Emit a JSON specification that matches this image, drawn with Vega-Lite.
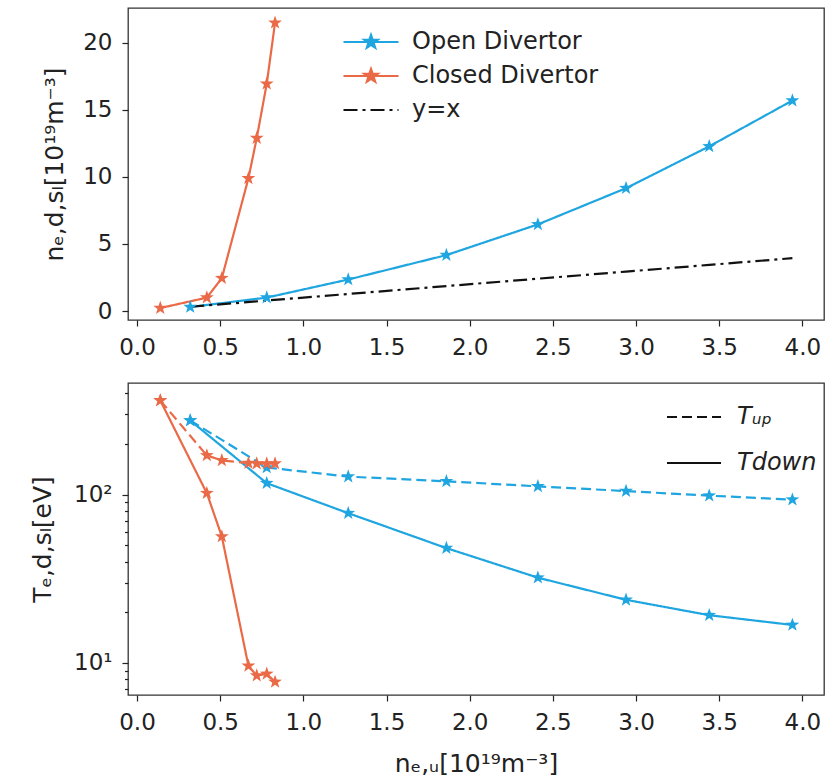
{
  "$schema": "https://vega.github.io/schema/vega-lite/v6.json",
  "background": "white",
  "padding": {"left": 29, "top": 7, "right": 10, "bottom": 2},
  "config": {
    "font": "DejaVu Sans",
    "view": {"stroke": "#333333", "strokeWidth": 1.3},
    "axis": {
      "domain": false,
      "grid": false,
      "tickColor": "#222222",
      "tickSize": 6,
      "tickWidth": 1.2,
      "labelFontSize": 23,
      "labelColor": "#222222",
      "labelPadding": 10,
      "titleFontSize": 25,
      "titleFontWeight": "normal",
      "titleColor": "#222222"
    },
    "legend": {"labelFontSize": 24, "labelColor": "#222222", "padding": 0}
  },
  "datasets": {
    "density": [
      {"series": "Open Divertor", "x": 0.32, "n": 0.3},
      {"series": "Open Divertor", "x": 0.78, "n": 1.0},
      {"series": "Open Divertor", "x": 1.27, "n": 2.35},
      {"series": "Open Divertor", "x": 1.86, "n": 4.17},
      {"series": "Open Divertor", "x": 2.41, "n": 6.46},
      {"series": "Open Divertor", "x": 2.94, "n": 9.16},
      {"series": "Open Divertor", "x": 3.44, "n": 12.28},
      {"series": "Open Divertor", "x": 3.94, "n": 15.7},
      {"series": "Closed Divertor", "x": 0.14, "n": 0.22},
      {"series": "Closed Divertor", "x": 0.42, "n": 1.0},
      {"series": "Closed Divertor", "x": 0.51, "n": 2.45},
      {"series": "Closed Divertor", "x": 0.67, "n": 9.9},
      {"series": "Closed Divertor", "x": 0.72, "n": 12.9},
      {"series": "Closed Divertor", "x": 0.78, "n": 16.95},
      {"series": "Closed Divertor", "x": 0.83, "n": 21.5},
      {"series": "y=x", "x": 0.32, "n": 0.32},
      {"series": "y=x", "x": 0.78, "n": 0.78},
      {"series": "y=x", "x": 1.27, "n": 1.27},
      {"series": "y=x", "x": 1.86, "n": 1.86},
      {"series": "y=x", "x": 2.41, "n": 2.41},
      {"series": "y=x", "x": 2.94, "n": 2.94},
      {"series": "y=x", "x": 3.44, "n": 3.44},
      {"series": "y=x", "x": 3.94, "n": 3.94}
    ],
    "temperature": [
      {"series": "Open Divertor", "kind": "T_up", "x": 0.32, "T": 276},
      {"series": "Open Divertor", "kind": "T_up", "x": 0.78, "T": 145},
      {"series": "Open Divertor", "kind": "T_up", "x": 1.27, "T": 128},
      {"series": "Open Divertor", "kind": "T_up", "x": 1.86, "T": 120},
      {"series": "Open Divertor", "kind": "T_up", "x": 2.41, "T": 112},
      {"series": "Open Divertor", "kind": "T_up", "x": 2.94, "T": 105},
      {"series": "Open Divertor", "kind": "T_up", "x": 3.44, "T": 98.6},
      {"series": "Open Divertor", "kind": "T_up", "x": 3.94, "T": 93.4},
      {"series": "Open Divertor", "kind": "T_down", "x": 0.32, "T": 276},
      {"series": "Open Divertor", "kind": "T_down", "x": 0.78, "T": 117},
      {"series": "Open Divertor", "kind": "T_down", "x": 1.27, "T": 77.6},
      {"series": "Open Divertor", "kind": "T_down", "x": 1.86, "T": 48.1},
      {"series": "Open Divertor", "kind": "T_down", "x": 2.41, "T": 32.1},
      {"series": "Open Divertor", "kind": "T_down", "x": 2.94, "T": 23.7},
      {"series": "Open Divertor", "kind": "T_down", "x": 3.44, "T": 19.2},
      {"series": "Open Divertor", "kind": "T_down", "x": 3.94, "T": 16.8},
      {"series": "Closed Divertor", "kind": "T_up", "x": 0.14, "T": 363},
      {"series": "Closed Divertor", "kind": "T_up", "x": 0.42, "T": 171},
      {"series": "Closed Divertor", "kind": "T_up", "x": 0.51, "T": 160},
      {"series": "Closed Divertor", "kind": "T_up", "x": 0.67, "T": 154},
      {"series": "Closed Divertor", "kind": "T_up", "x": 0.72, "T": 153},
      {"series": "Closed Divertor", "kind": "T_up", "x": 0.78, "T": 153},
      {"series": "Closed Divertor", "kind": "T_up", "x": 0.83, "T": 153},
      {"series": "Closed Divertor", "kind": "T_down", "x": 0.14, "T": 363},
      {"series": "Closed Divertor", "kind": "T_down", "x": 0.42, "T": 102},
      {"series": "Closed Divertor", "kind": "T_down", "x": 0.51, "T": 56.4},
      {"series": "Closed Divertor", "kind": "T_down", "x": 0.67, "T": 9.6},
      {"series": "Closed Divertor", "kind": "T_down", "x": 0.72, "T": 8.4},
      {"series": "Closed Divertor", "kind": "T_down", "x": 0.78, "T": 8.6},
      {"series": "Closed Divertor", "kind": "T_down", "x": 0.83, "T": 7.7}
    ]
  },
  "spacing": 22,
  "resolve": {
    "scale": {"color": "independent", "strokeDash": "independent"},
    "legend": {"color": "independent", "strokeDash": "independent"}
  },
  "vconcat": [
    {
      "width": 696,
      "height": 312,
      "data": {"name": "density"},
      "layer": [
        {
          "mark": {"type": "line", "strokeWidth": 2.2},
          "encoding": {
            "x": {"field": "x", "type": "quantitative",
                  "scale": {"domain": [-0.054, 4.13], "nice": false, "zero": false},
                  "axis": {"values": [0, 0.5, 1, 1.5, 2, 2.5, 3, 3.5, 4], "format": ".1f", "title": null}},
            "y": {"field": "n", "type": "quantitative",
                  "scale": {"domain": [-0.67, 22.6], "nice": false, "zero": false},
                  "axis": {"values": [0, 5, 10, 15, 20], "title": "nₑ,d,sₗ[10¹⁹m⁻³]", "titlePadding": 15}},
            "color": {"field": "series", "type": "nominal",
                      "scale": {"domain": ["Open Divertor", "Closed Divertor", "y=x"], "range": ["#1fa5e0", "#ea6a47", "#111111"]},
                      "legend": {
                        "title": null,
                        "orient": "none",
                        "legendX": 231,
                        "legendY": 22,
                        "symbolSize": 400,
                        "symbolStrokeWidth": 2.2,
                        "labelOffset": 29,
                        "rowPadding": 10,
                        "labelLimit": 300,
                        "encode": {
                          "symbols": {
                            "update": {
                              "shape": {"signal": "datum.value === 'y=x' ? 'M-2.75,0H2.75' : 'M-2.75,0H2.75M0,-0.7L0.165,-0.227L0.666,-0.216L0.266,0.087L0.412,0.566L0,0.28L-0.412,0.566L-0.266,0.087L-0.666,-0.216L-0.165,-0.227Z'"},
                              "fill": {"signal": "datum.value === 'Open Divertor' ? '#1fa5e0' : datum.value === 'Closed Divertor' ? '#ea6a47' : 'transparent'"},
                              "stroke": {"signal": "datum.value === 'Open Divertor' ? '#1fa5e0' : datum.value === 'Closed Divertor' ? '#ea6a47' : '#111111'"},
                              "strokeDash": {"signal": "datum.value === 'y=x' ? [14, 5, 3, 5] : [1, 0]"},
                              "opacity": {"value": 1}
                            }
                          }
                        }
                      }},
            "strokeDash": {"field": "series", "type": "nominal",
                           "scale": {"domain": ["Open Divertor", "Closed Divertor", "y=x"], "range": [[1, 0], [1, 0], [14, 5, 3, 5]]},
                           "legend": null}
          }
        },
        {
          "transform": [{"filter": "datum.series !== 'y=x'"}],
          "mark": {"type": "point", "filled": true, "opacity": 1, "size": 210,
                   "shape": "M0,-1L0.235,-0.324L0.951,-0.309L0.38,0.124L0.588,0.809L0,0.4L-0.588,0.809L-0.38,0.124L-0.951,-0.309L-0.235,-0.324Z"},
          "encoding": {
            "x": {"field": "x", "type": "quantitative"},
            "y": {"field": "n", "type": "quantitative"},
            "color": {"field": "series", "type": "nominal"}
          }
        }
      ]
    },
    {
      "width": 696,
      "height": 312,
      "data": {"name": "temperature"},
      "layer": [
        {
          "mark": {"type": "line", "strokeWidth": 2.2},
          "encoding": {
            "x": {"field": "x", "type": "quantitative",
                  "scale": {"domain": [-0.054, 4.13], "nice": false, "zero": false},
                  "axis": {"values": [0, 0.5, 1, 1.5, 2, 2.5, 3, 3.5, 4], "format": ".1f", "title": "nₑ,ᵤ[10¹⁹m⁻³]", "titlePadding": 17}},
            "y": {"field": "T", "type": "quantitative",
                  "scale": {"type": "log", "domain": [6.44, 461], "nice": false},
                  "axis": {
                    "values": [7, 8, 9, 10, 20, 30, 40, 50, 60, 70, 80, 90, 100, 200, 300, 400],
                    "labelExpr": "datum.value === 10 ? '10¹' : datum.value === 100 ? '10²' : ''",
                    "tickSize": {"condition": {"test": "datum.value === 10 || datum.value === 100", "value": 6}, "value": 3.5},
                    "title": "Tₑ,d,sₗ[eV]",
                    "titlePadding": 18
                  }},
            "color": {"field": "series", "type": "nominal",
                      "scale": {"domain": ["Open Divertor", "Closed Divertor"], "range": ["#1fa5e0", "#ea6a47"]},
                      "legend": null},
            "strokeDash": {"field": "kind", "type": "nominal",
                           "scale": {"domain": ["T_up", "T_down"], "range": [[10, 5], [1, 0]]},
                           "legend": {
                             "title": null,
                             "orient": "none",
                             "legendX": 554,
                             "legendY": 22,
                             "symbolType": "M-2.7,0H2.7",
                             "symbolSize": 400,
                             "symbolStrokeWidth": 2.2,
                             "symbolStrokeColor": "#111111",
                             "labelOffset": 31,
                             "rowPadding": 22,
                             "labelFontStyle": "italic",
                             "labelExpr": "datum.value === 'T_up' ? 'Tᵤₚ' : 'Tdown'",
                             "encode": {"symbols": {"update": {"stroke": {"value": "#111111"}, "opacity": {"value": 1}}}}
                           }}
          }
        },
        {
          "mark": {"type": "point", "filled": true, "opacity": 1, "size": 210,
                   "shape": "M0,-1L0.235,-0.324L0.951,-0.309L0.38,0.124L0.588,0.809L0,0.4L-0.588,0.809L-0.38,0.124L-0.951,-0.309L-0.235,-0.324Z"},
          "encoding": {
            "x": {"field": "x", "type": "quantitative"},
            "y": {"field": "T", "type": "quantitative"},
            "color": {"field": "series", "type": "nominal"}
          }
        }
      ]
    }
  ]
}
